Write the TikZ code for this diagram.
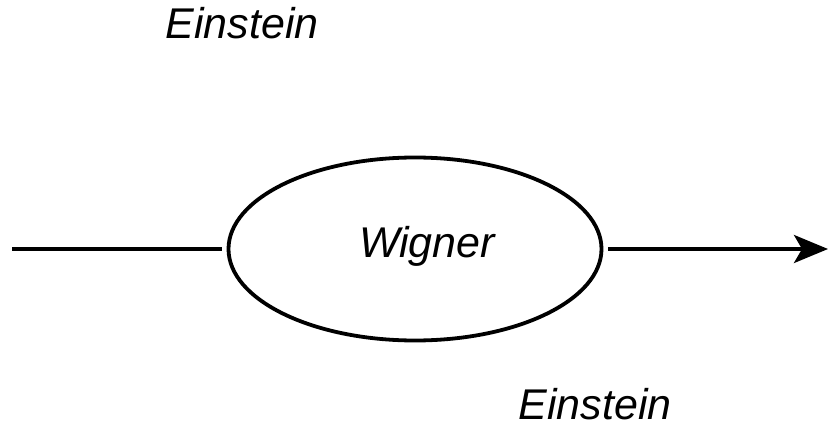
\documentclass[tikz,border=0pt]{standalone}
\usepackage{fontspec}
\setmainfont{Liberation Sans}
\usetikzlibrary{shapes.geometric,arrows.meta}
\begin{document}
\begin{tikzpicture}[x=1pt,y=-1pt,
  lbl/.style={font=\fontsize{43}{48}\selectfont\itshape, anchor=base, inner sep=0pt},
  oval/.style={draw, ellipse, line width=3.8pt, minimum width=373pt, minimum height=183pt, inner sep=0pt},
  conn/.style={line width=3.6pt}]
\useasboundingbox (0,0) rectangle (828,428);
\node[oval] (w) at (415,249) {};
\node[lbl] (wt) at (427,257) {Wigner};
\node[lbl] (e1) at (242,39) {Einstein};
\node[lbl] (e2) at (595,419) {Einstein};
\coordinate (l) at (12,249);
\coordinate (r) at (828,249);
\draw[conn, shorten >=5pt] (l) -- (w.west);
\draw[conn, shorten <=5pt, -{Stealth[length=34pt, width=28pt, inset=8pt]}] (w.east) -- (r);
\end{tikzpicture}
\end{document}
